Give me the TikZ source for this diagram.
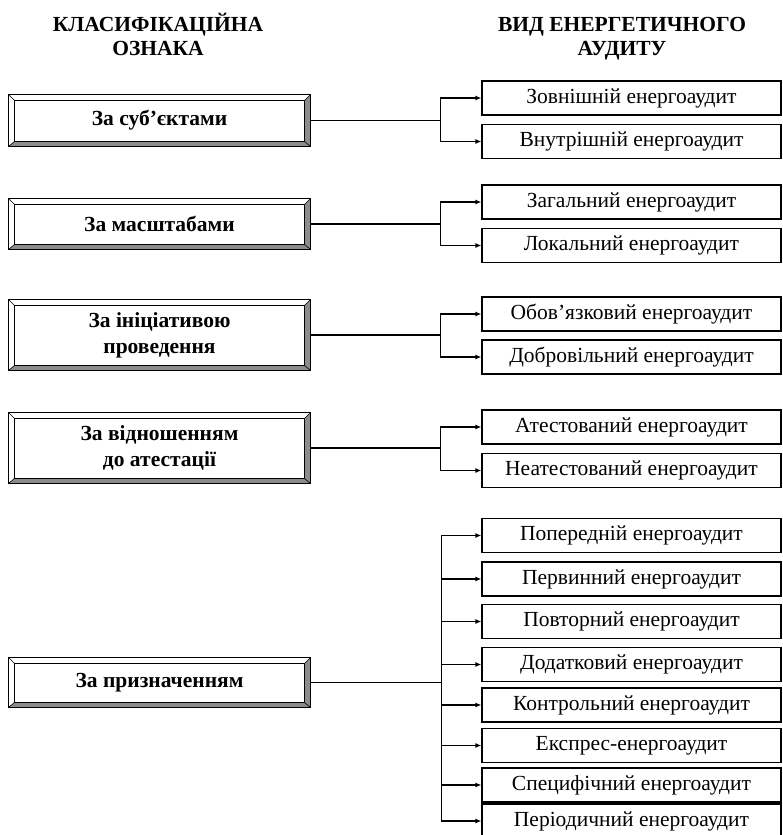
\documentclass[tikz,border=0pt]{standalone}
\usepackage{fontspec}
\setmainfont{Liberation Serif}
\usetikzlibrary{arrows.meta,calc}
\newcommand\bevelframe[1]{%
 \fill[black!45] (#1.south west) -- (#1.south east) -- (#1.north east) -- ($(#1.north east)+(-6,6)$) -- ($(#1.south east)+(-6,-5)$) -- ($(#1.south west)+(6,-5)$) -- cycle;
 \draw[line width=1.2pt] (#1.north west) rectangle (#1.south east);
 \draw[line width=0.9pt] ($(#1.north west)+(6,6)$) rectangle ($(#1.south east)+(-6,-5)$);
 \draw[line width=0.6pt] (#1.north west) -- ++(6,6) (#1.north east) -- ++(-6,6) (#1.south west) -- ++(6,-5) (#1.south east) -- ++(-6,-5);
}
\begin{document}
\begin{tikzpicture}[x=1pt,y=-1pt,
 lbox/.style={minimum width=301pt, minimum height=#1, inner sep=0pt, font=\fontsize{21.5}{26}\selectfont\bfseries, align=center},
 rbox/.style={draw, line width=1.2pt, minimum width=299pt, minimum height=34pt, inner sep=0pt, font=\fontsize{21.5}{24}\selectfont},
 hdr/.style={font=\fontsize{21.5}{24}\selectfont\bfseries, align=center},
 conn/.style={line width=1.2pt},
 arr/.style={conn, -{Latex[length=6pt,width=5pt]}}]
\useasboundingbox (0,0) rectangle (783,835);
% headers
\node[hdr] (h1) at (158,34) {КЛАСИФІКАЦІЙНА\\ОЗНАКА};
\node[hdr] (h2) at (622,38.5) {ВИД ЕНЕРГЕТИЧНОГО\\АУДИТУ};
% left boxes
\node[lbox=51pt] (l1) at (159.5,120.5) {За суб’єктами};
\node[lbox=50pt] (l2) at (159.5,224) {За масштабами};
\node[lbox=70pt] (l3) at (159.5,335) {За ініціативою\\проведення};
\node[lbox=70pt] (l4) at (159.5,448) {За відношенням\\до атестації};
\node[lbox=49pt] (l5) at (159.5,682.5) {За призначенням};
\foreach \n in {l1,l2,l3,l4,l5} {\bevelframe{\n}}
% right boxes
\node[rbox] (r1a) at (631.5,98) {Зовнішній енергоаудит};
\node[rbox] (r1b) at (631.5,141.5) {Внутрішній енергоаудит};
\node[rbox] (r2a) at (631.5,202) {Загальний енергоаудит};
\node[rbox] (r2b) at (631.5,245.5) {Локальний енергоаудит};
\node[rbox] (r3a) at (631.5,314) {Обов’язковий енергоаудит};
\node[rbox] (r3b) at (631.5,357) {Добровільний енергоаудит};
\node[rbox] (r4a) at (631.5,427) {Атестований енергоаудит};
\node[rbox] (r4b) at (631.5,470.5) {Неатестований енергоаудит};
\node[rbox] (r5a) at (631.5,535.5) {Попередній енергоаудит};
\node[rbox] (r5b) at (631.5,579) {Первинний енергоаудит};
\node[rbox] (r5c) at (631.5,621.5) {Повторний енергоаудит};
\node[rbox] (r5d) at (631.5,664.5) {Додатковий енергоаудит};
\node[rbox] (r5e) at (631.5,705) {Контрольний енергоаудит};
\node[rbox] (r5f) at (631.5,745.5) {Експрес-енергоаудит};
\node[rbox] (r5g) at (631.5,785) {Специфічний енергоаудит};
\node[rbox] (r5h) at (631.5,821) {Періодичний енергоаудит};
% connectors
\foreach \g in {1,2,3,4} {
  \path (l\g.east) -- ++(130,0) coordinate (j\g);
  \draw[conn] (l\g.east) -- (j\g);
  \draw[arr] (j\g) |- (r\g a.west);
  \draw[arr] (j\g) |- (r\g b.west);
}
\path (l5.east) -- ++(131,0) coordinate (j5);
\draw[conn] (l5.east) -- (j5);
\foreach \s in {a,b,c,d,e,f,g,h} {\draw[arr] (j5) |- (r5\s.west);}
\end{tikzpicture}
\end{document}
